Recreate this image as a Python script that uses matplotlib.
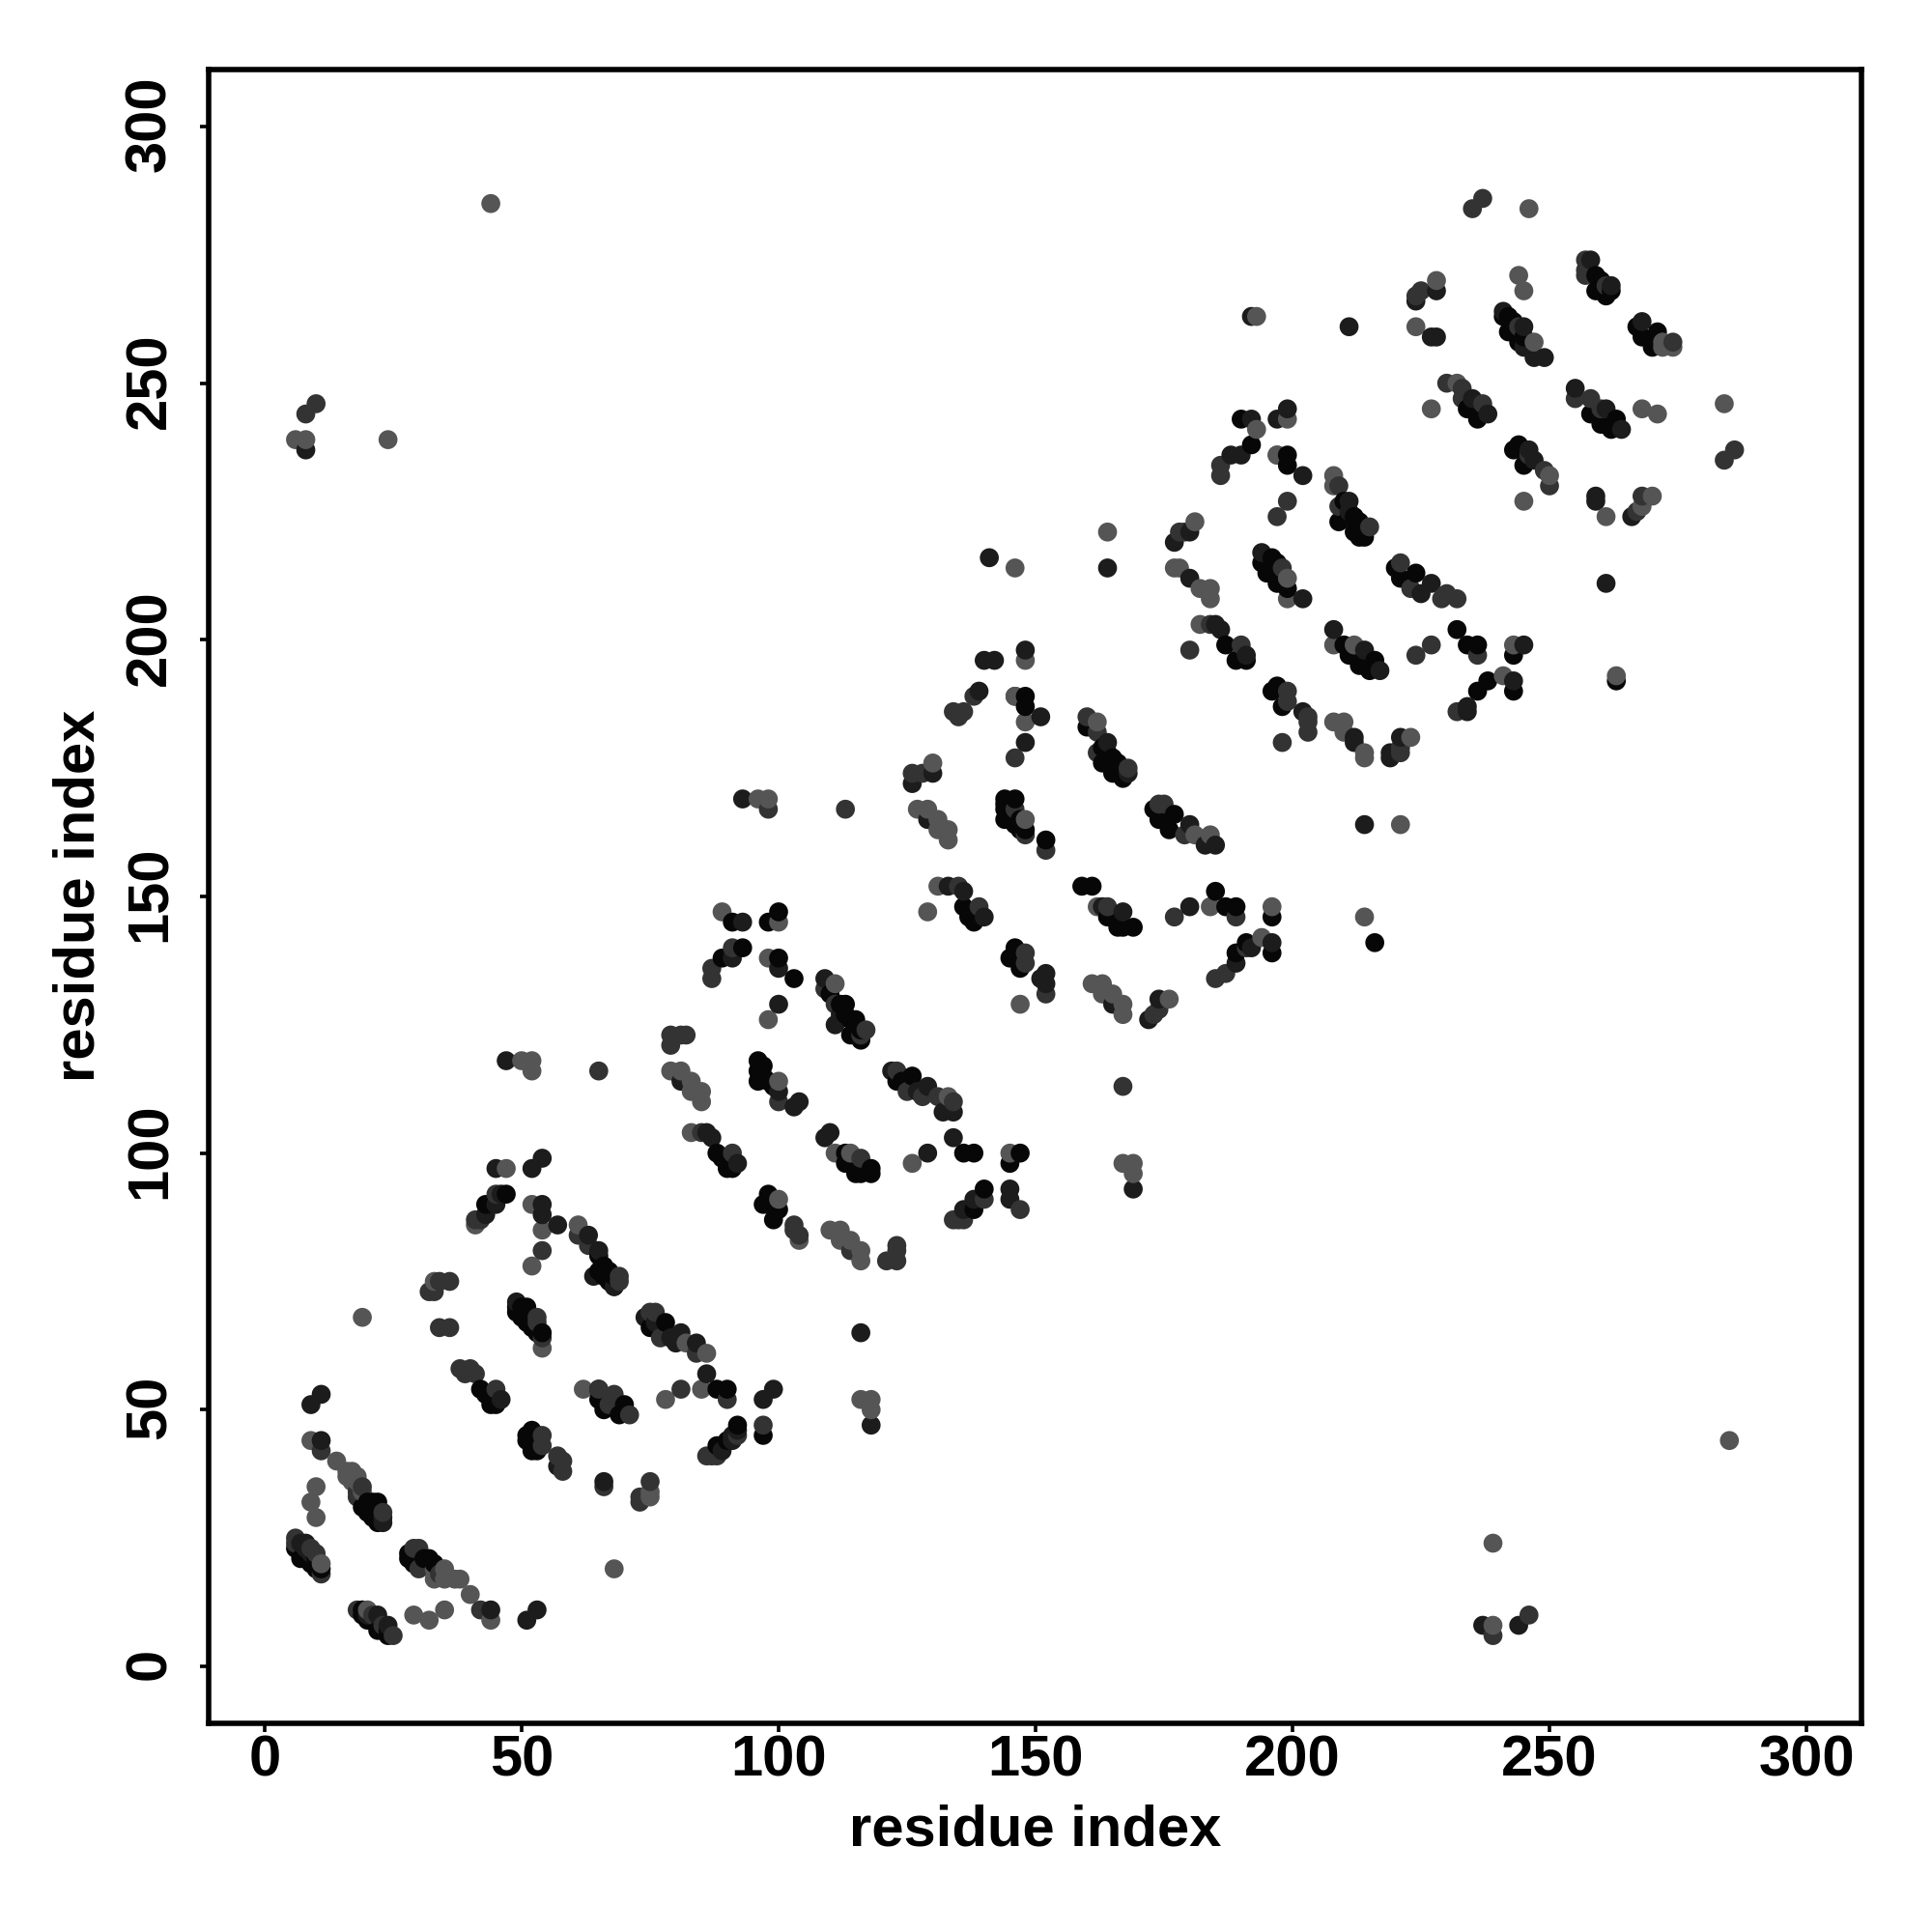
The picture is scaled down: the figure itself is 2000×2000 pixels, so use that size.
import numpy as np
import matplotlib
matplotlib.use("Agg")
import matplotlib.pyplot as plt
from matplotlib.transforms import ScaledTranslation

plt.rcParams['font.family'] = ['Liberation Sans', 'DejaVu Sans']

# contacts, grouped by grey level: (i, j)
black_pts = [(6,23),(7,21),(8,21),(9,20),(10,21),(10,19),(11,19),(19,11),(19,10),(20,9),(22,7),(24,7),(24,6),
    (21,30),(20,30),(22,32),(21,32),(19,31),(22,28),(28,22),(28,21),(29,20),(31,21),(32,21),(33,20),
    (49,70),(49,69),(50,70),(50,68),(51,70),(51,68),(51,67),(52,66),(53,65),(54,65),(42,54),(43,53),(44,51),(45,51),
    (51,45),(52,46),(51,44),(52,42),(53,42),(65,54),(65,52),(66,50),(69,49),(70,51),(78,67),(75,66),
    (88,54),(90,54),(88,43),(90,44),(92,47),(97,45),(43,90),(47,92),(66,78),(66,76),(68,74),(65,77),
    (91,145),(98,145),(100,147),(89,138),(93,140),(100,138),(103,134),(113,129),(115,126),(114,123),(116,122),
    (96,118),(96,116),(96,114),(98,114),(126,115),(123,114),(124,114),(88,100),(89,99),(90,97),(91,97),
    (113,100),(113,98),(115,96),(116,96),(118,97),(118,96),(136,100),(138,100),(145,98),(147,100),
    (140,93),(138,89),(98,92),(97,90),(98,90),(100,89),(99,87),
    (144,169),(144,167),(144,165),(146,169),(146,164),(148,163),(152,161),(146,140),(145,138),(147,136),
    (136,148),(138,145),(137,146),(164,146),(166,144),(167,144),(169,144),(159,152),(161,152),
    (160,183),(165,177),(163,176),(165,174),(167,173),(173,167),(177,166),(174,165),(176,163),
    (185,151),(187,148),(189,148),(196,146),(196,139),(191,141),(189,139),(148,189),(148,187),
    (190,243),(192,238),(199,236),(199,234),(209,223),(212,224),(212,221),(214,220),(194,215),(196,216),(195,213),
    (197,211),(199,210),(187,199),(189,196),(191,196),(197,191),(196,190),(198,187),
    (238,192),(243,190),(236,190),(243,197),(236,199),(234,199),(232,202),(210,199),(211,197),(216,196),(213,195),(215,194),
    (220,214),(224,213),(221,212),(216,141),
    (241,263),(242,263),(242,260),(244,258),(259,271),(259,268),(261,267),(267,261),(271,260),(268,259),(270,257),
    (234,245),(236,243),(258,244),(263,243),(260,242),(262,241),(244,238),(243,237),(245,234),(263,192),
    (110,131),(112,129),(113,127),(114,126),(115,124),(116,124),(210,227),(211,224),(213,223),(214,222),(213,220),
    (163,179),(164,178),(166,176),(166,175),(260,270),(260,268),(262,268),(243,262),(243,260),(244,260),(245,259),
    (52,67),(53,66),(65,80),(67,77),(67,75),(68,76),(20,32),(20,31),(22,30),(22,29),(21,29),
    (97,117),(97,115),(99,113),(145,166),(147,165),(147,163),(196,214),(197,213),(197,215),(198,212),(144,168),(145,168)]

dark_pts = [(7,24),(8,24),(8,23),(9,22),(20,10),(22,10),(24,8),(9,51),(11,53),(11,44),(23,29),(23,28),
    (44,11),(51,9),(53,11),(49,71),(46,52),(57,39),(66,36),(68,74),(74,68),(81,65),(79,64),(80,63),(84,63),(76,67),
    (86,57),(97,52),(99,54),(92,46),(89,42),(91,44),(91,45),(45,97),(52,97),(54,99),(43,88),(45,90),(46,92),
    (54,90),(54,88),(57,86),(63,84),(65,81),(64,76),(93,169),(126,172),(130,174),
    (93,145),(91,138),(100,136),(100,129),(109,134),(111,125),(112,127),(81,114),(100,112),(103,109),(104,110),
    (122,116),(129,113),(127,112),(132,108),(134,108),(87,103),(86,104),(92,98),(110,104),(109,103),
    (129,100),(134,103),(138,91),(136,89),(145,93),(145,91),(169,93),
    (129,165),(152,135),(152,133),(151,134),(140,146),(133,152),(136,151),(165,129),(172,126),(174,130),
    (163,148),(167,147),(180,148),(185,160),(183,160),(180,164),(164,180),(168,174),(199,245),(197,243),(192,243),
    (188,236),(190,236),(202,232),(211,227),(211,225),(164,214),(180,221),(177,219),(180,212),(185,203),(186,202),(191,197),
    (194,217),(202,208),(202,186),(212,181),(212,180),(214,164),(221,181),(219,178),(219,177),
    (243,192),(234,187),(234,186),(245,199),(208,202),(214,198),(217,194),(227,211),(225,209),
    (259,228),(259,227),(261,211),(266,224),(258,274),(262,269),(228,268),(224,266),(227,259),(228,259),
    (241,264),(245,261),(245,257),(247,255),(249,255),(268,262),(235,247),(238,244),(255,249),(261,245),(264,241),
    (246,237),(247,235),(141,216),(8,237),(192,263),(211,261),(237,8),(244,8),(140,196),(142,196),(148,198),(151,185),(148,180),(139,190),
    (192,140),(189,137),(196,141),(116,65),(118,47),(47,118)]

mid_pts = [(6,25),(6,24),(9,23),(10,22),(11,18),(11,42),(19,35),(18,33),(18,34),(23,30),(18,11),(21,10),(23,8),(25,6),(42,11),
    (29,23),(30,23),(30,19),(34,18),(32,73),(34,75),(36,75),(33,73),(34,66),(36,66),(53,68),(53,67),(54,64),
    (38,58),(40,58),(39,57),(41,57),(45,54),(54,45),(54,43),(57,41),(58,40),(58,38),(66,35),(75,36),(73,33),(73,32),
    (68,53),(67,51),(71,49),(75,69),(76,69),(77,64),(84,61),(81,54),(90,52),(86,41),(87,41),(88,41),(92,45),(97,47),
    (41,87),(42,87),(45,92),(54,81),(61,84),(63,82),(69,76),(69,75),(65,54),
    (98,167),(113,167),(146,177),(126,174),(128,174),(146,167),(148,162),(152,159),(175,168),(87,134),(87,136),(91,140),
    (109,132),(111,129),(117,124),(116,123),(82,123),(79,123),(79,121),(81,123),(100,110),(123,116),(125,112),(131,111),(134,110),(128,111),
    (85,104),(91,100),(116,99),(167,113),(140,91),(134,87),(136,87),(135,87),(147,89),(103,86),(103,85),(104,84),(114,81),
    (123,82),(123,81),(121,79),(123,79),(177,146),(135,152),(139,148),(164,148),(148,139),(148,137),(152,131),(174,128),(173,127),
    (186,234),(186,232),(209,230),(209,226),(215,222),(178,221),(179,221),(180,198),(184,203),(190,199),(198,214),
    (199,190),(199,188),(203,185),(203,184),(203,182),(198,180),(221,179),(221,178),(199,227),(197,224),(224,197),(227,199),
    (232,186),(236,197),(221,215),(223,210),(230,209),(232,208),(229,208),(257,274),(257,272),(257,271),(261,269),
    (225,268),(224,267),(244,261),(274,258),(230,250),(233,249),(233,247),(237,246),(255,247),(258,247),(260,245),
    (246,236),(249,233),(250,230),(268,228),(267,225),(284,235),(286,237),(237,286),(235,284),(8,244),(10,246),(239,6),(246,10),
    (135,185),(134,186),(136,186),(138,189),(146,189),(160,185),(162,182),(162,178),(168,175),(174,168),(179,162),(189,146),
    (185,134),(187,135),(191,140),(65,116)]

light_pts = [(11,20),(9,44),(14,40),(16,38),(17,38),(16,37),(18,37),(17,36),(18,36),(19,34),(10,35),(9,32),(10,29),
    (20,11),(29,10),(32,9),(35,11),(44,9),(33,19),(35,19),(33,17),(35,17),(37,17),(38,17),(40,14),(33,75),(19,68),
    (54,62),(68,19),(75,34),(75,33),(62,54),(82,63),(86,61),(78,52),(85,54),(52,90),(54,85),(52,78),(47,97),(41,86),
    (61,86),(89,147),(100,145),(98,138),(98,126),(96,169),(98,169),(130,176),(127,167),(129,167),(131,165),(131,163),(133,163),(133,161),
    (148,165),(111,133),(79,116),(81,116),(83,114),(83,112),(85,112),(85,110),(100,114),(133,111),(83,104),(111,100),(114,100),
    (126,98),(145,100),(167,98),(169,98),(169,96),(100,91),(104,83),(110,85),(112,85),(112,83),(114,83),(116,81),(116,79),
    (129,147),(131,152),(147,129),(161,133),(163,133),(163,131),(165,131),(167,129),(167,127),(176,130),(162,148),(148,184),(148,196),
    (164,221),(181,223),(177,214),(178,214),(182,210),(184,210),(184,208),(182,203),(197,236),(199,243),(193,241),(197,236),
    (208,232),(208,230),(199,212),(199,208),(208,184),(210,184),(210,182),(214,178),(214,177),(223,181),(221,164),(214,146),
    (241,193),(243,199),(208,199),(212,199),(245,227),(261,224),(250,232),(263,193),(270,228),(268,226),
    (244,271),(245,268),(228,270),(224,261),(247,258),(272,258),(274,257),(272,257),(227,245),(232,250),(268,245),(271,244),
    (284,246),(246,284),(162,184),(184,162),(181,162),(196,148),(194,142),(184,148),(6,239),(8,239),(24,239),(44,285),(285,44),(239,24),(239,8),
    (50,118),(52,118),(52,116),(116,52),(118,52),(118,50),(146,214),(193,263),(146,189)]

tick_vals = [0, 50, 100, 150, 200, 250, 300]
grey_levels = ['#070707', '#1c1c1c', '#333333', '#555555']

# later points (higher i, then j) sit on top, like in the original
xs, ys, cols = [], [], []
for pts, c in zip([black_pts, dark_pts, mid_pts, light_pts], grey_levels):
    for p in pts:
        xs.append(p[0])
        ys.append(p[1])
        cols.append(c)
xs = np.array(xs)
ys = np.array(ys)
cols = np.array(cols)
order = np.lexsort((ys, xs))

fig = plt.figure(figsize=(10, 10), dpi=200)
ax = fig.add_axes([216 / 2000, 1 - 1784 / 2000, (1927 - 216) / 2000, (1784 - 71.5) / 2000])
ax.scatter(xs[order], ys[order], s=50, c=cols[order], linewidths=0, zorder=3)

ax.set_xlim(-10.9, 310.7)
ax.set_ylim(-11.1, 311.2)
ax.set_xticks(tick_vals)
ax.set_yticks(tick_vals)
ax.tick_params(axis='both', length=3.2, width=1.3, labelsize=21.5)
ax.tick_params(axis='x', pad=1)
ax.tick_params(axis='y', pad=8.5)
nudge = ScaledTranslation(0, 2.5 / 200, fig.dpi_scale_trans)
for lab in ax.get_xticklabels() + ax.get_yticklabels():
    lab.set_fontweight('bold')
    lab.set_color('black')
for lab in ax.get_yticklabels():
    lab.set_rotation(90)
    lab.set_va('center')
    lab.set_transform(lab.get_transform() + nudge)
for s in ax.spines.values():
    s.set_linewidth(2.0)

fig.text(0.5 * (216 + 1927) / 2000, 1 - 1895 / 2000, 'residue index', ha='center', va='center',
         fontsize=21.5, fontweight='bold')
fig.text(82.5 / 2000, 1 - 927 / 2000, 'residue index', ha='center', va='center', rotation=90,
         fontsize=21.5, fontweight='bold')

fig.savefig('out.png')
